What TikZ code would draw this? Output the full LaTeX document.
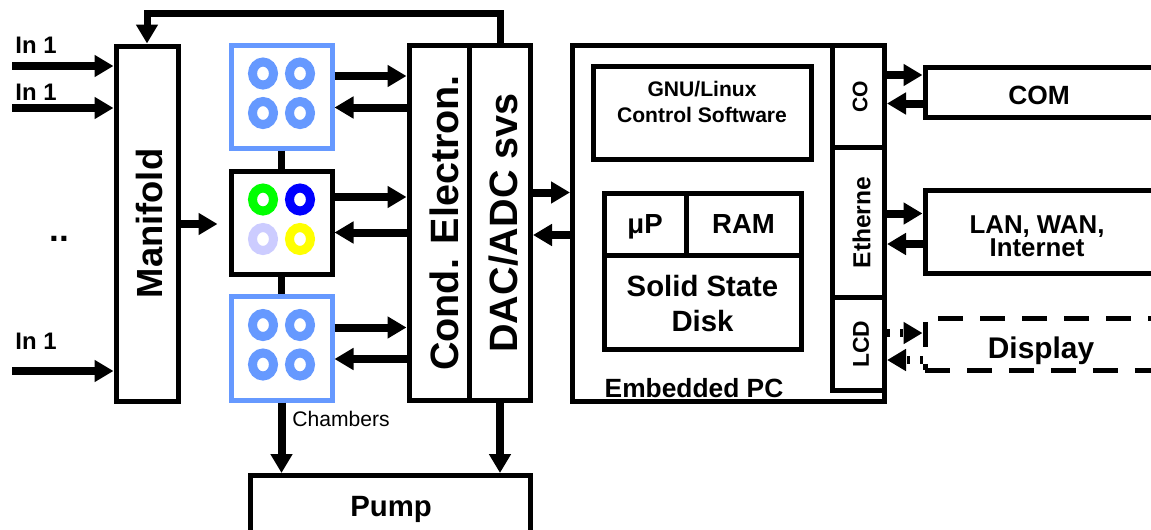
\documentclass[tikz,border=0pt]{standalone}
\usepackage{fontspec}
\setmainfont{Liberation Sans}
\usetikzlibrary{arrows.meta,fit}

\definecolor{chblue}{RGB}{102,153,255}
\definecolor{rgreen}{RGB}{0,255,0}
\definecolor{rblue}{RGB}{0,0,255}
\definecolor{rlav}{RGB}{204,204,255}
\definecolor{ryellow}{RGB}{255,255,0}

\newcommand{\fsz}[2]{\fontsize{#1pt}{#2pt}\selectfont\bfseries}

\tikzset{
  box/.style={draw, line width=0.1cm, inner sep=0pt},
  chbox/.style={box, draw=chblue},
  dbox/.style={box, dash pattern=on 0.5cm off 0.34cm},
  txt/.style={inner sep=0pt, align=center},
  arr/.style={line width=0.16cm, -{Triangle[length=0.38cm,width=0.42cm]}},
  darr/.style={arr, dash pattern=on 0.06cm off 0.2cm},
  fb/.style={arr, line width=0.14cm},
  link/.style={line width=0.14cm},
  ring/.style={line width=0.18cm}
}

\begin{document}
\begin{tikzpicture}[x=0.02cm, y=-0.02cm]
\useasboundingbox (0,0) rectangle (1151,529);
\clip (0,0) rectangle (1151,529);

% manifold and its inputs
\node[box, fit={(116,46) (178,401)}] (mani) {};
\node[txt, rotate=90, font=\fsz{20.7}{24}] (mani-t) at ([xshift=0.04cm]mani.center) {Manifold};

\node[txt, font=\fsz{13.6}{16}] (in1-t) at (36,45) {In 1};
\node[txt, font=\fsz{13.6}{16}] (in2-t) at (36,92) {In 1};
\node[txt, font=\fsz{13.6}{16}] (in3-t) at (36,341) {In 1};
\node[txt, anchor=base, font=\fsz{20}{24}] (dots) at (59.5,241) {..};
\coordinate (in1) at (12,66);
\coordinate (in2) at (12,108);
\coordinate (in3) at (12,371);
\foreach \i in {in1,in2,in3}
  \draw[arr] (\i) -- (mani.west |- \i);

% chambers
\node[chbox, fit={(231,45) (332,148)}] (ch1) {};
\node[box, fit={(231,171) (332,274)}] (ch2) {};
\node[chbox, fit={(231,296) (332,400)}] (ch3) {};
\draw[link] (ch1.south) -- (ch2.north);
\draw[link] (ch2.south) -- (ch3.north);
\foreach \n/\ca/\cb/\cc/\cd in {ch1/chblue/chblue/chblue/chblue,
    ch2/rgreen/rblue/rlav/ryellow, ch3/chblue/chblue/chblue/chblue} {
  \begin{scope}[shift={(\n.center)}]
    \draw[ring, draw=\ca] (-18.5,-23) circle [x radius=0.21cm, y radius=0.23cm];
    \draw[ring, draw=\cb] (18.5,-23) circle [x radius=0.21cm, y radius=0.23cm];
    \draw[ring, draw=\cc] (-18.5,16.5) circle [x radius=0.21cm, y radius=0.23cm];
    \draw[ring, draw=\cd] (18.5,16.5) circle [x radius=0.21cm, y radius=0.23cm];
  \end{scope}
}
\node[txt, font=\fontsize{12pt}{14pt}\selectfont] (ch-t) at (341,419) {Chambers};
\draw[arr, shorten >=0.22cm] (mani.east |- 0,224) -- (ch2.west |- 0,224);

% electronics
\node[box, fit={(409,45.5) (469.5,400.5)}] (cond) {};
\node[box, fit={(469.5,45.5) (530.5,400.5)}] (dac) {};
\node[txt, rotate=90, font=\fsz{22.5}{26}] (cond-t) at ([xshift=0.1cm]cond.center) {Cond. Electron.};
\node[txt, rotate=90, font=\fsz{22.5}{26}] (dac-t) at ([xshift=0.08cm]dac.center) {DAC/ADC svs};
\foreach \c/\ya/\yb in {ch1/76/107.5, ch2/197/232.5, ch3/327.5/359} {
  \draw[arr] (\c.east |- 0,\ya) -- (cond.west |- 0,\ya);
  \draw[arr] (cond.west |- 0,\yb) -- (\c.east |- 0,\yb);
}
\draw[fb] (dac.north) -- (dac.north |- 0,13.5) -| (mani.north);

% pump
\node[box, fit={(250.5,475.5) (530.5,560)}] (pump) {};
\node[txt, anchor=base, font=\fsz{16.7}{20}] (pump-t) at (391,516) {Pump};
\draw[arr] (ch3.south) -- (ch3.south |- pump.north);
\draw[arr] (dac.south) -- (dac.south |- pump.north);

% embedded pc
\node[box, fit={(572.5,45.5) (884.5,401)}] (pc) {};
\node[box, fit={(593,66) (811,159)}] (gnu) {};
\node[txt, font=\fsz{12}{14.5}] (gnu-t) at ([yshift=0.21cm]gnu.center) {GNU/Linux\\Control Software};
\node[box, fit={(604,193.5) (686,255)}] (mup) {};
\node[box, fit={(686,193.5) (801,255)}] (ram) {};
\node[box, fit={(604,255) (801,349.5)}] (ssd) {};
\node[txt, anchor=base, font=\fsz{15.7}{19}] (mup-t) at (645,233) {μP};
\node[txt, anchor=base, font=\fsz{15.7}{19}] (ram-t) at (743.5,233) {RAM};
\node[txt, font=\fsz{16.7}{19.8}] (ssd-t) at ([yshift=-0.02cm]ssd.center) {Solid State\\Disk};
\node[txt, font=\fsz{15}{18}] (pc-t) at (694,388.5) {Embedded PC};
\draw[arr] (dac.east |- 0,192.5) -- (pc.west |- 0,192.5);
\draw[arr] (pc.west |- 0,235) -- (dac.east |- 0,235);

% ports
\node[box, fit={(832.5,45.5) (884.5,147.5)}] (co) {};
\node[box, fit={(832.5,147.5) (884.5,297.5)}] (eth) {};
\node[box, fit={(832.5,297.5) (884.5,390.5)}] (lcd) {};
\node[txt, rotate=90, font=\fsz{12}{14}] (co-t) at ([xshift=0.03cm]co.center) {CO};
\node[txt, rotate=90, font=\fsz{14}{16}] (eth-t) at ([xshift=0.06cm]eth.center) {Etherne};
\node[txt, rotate=90, font=\fsz{13}{15}] (lcd-t) at ([xshift=0.05cm]lcd.center) {LCD};

% outside world
\node[box, fit={(925,67.5) (1170,117.5)}] (com) {};
\node[box, fit={(925,190.5) (1170,273.5)}] (lan) {};
\node[dbox, fit={(925,318) (1170,370)}] (disp) {};
\node[txt, font=\fsz{15}{18}] (com-t) at (1039,95) {COM};
\node[txt, font=\fsz{14.7}{12.2}] (lan-t) at (1037,236) {LAN, WAN,\\Internet};
\node[txt, anchor=base, font=\fsz{17}{20}] (disp-t) at (1041,358.5) {Display};
\draw[arr] (co.east |- 0,75) -- (com.west |- 0,75);
\draw[arr] (com.west |- 0,103.5) -- (co.east |- 0,103.5);
\draw[arr] (eth.east |- 0,213.5) -- (lan.west |- 0,213.5);
\draw[arr] (lan.west |- 0,244) -- (eth.east |- 0,244);
\draw[darr] (lcd.east |- 0,333) -- (disp.west |- 0,333);
\draw[darr] (disp.west |- 0,360) -- (lcd.east |- 0,360);
\end{tikzpicture}
\end{document}
